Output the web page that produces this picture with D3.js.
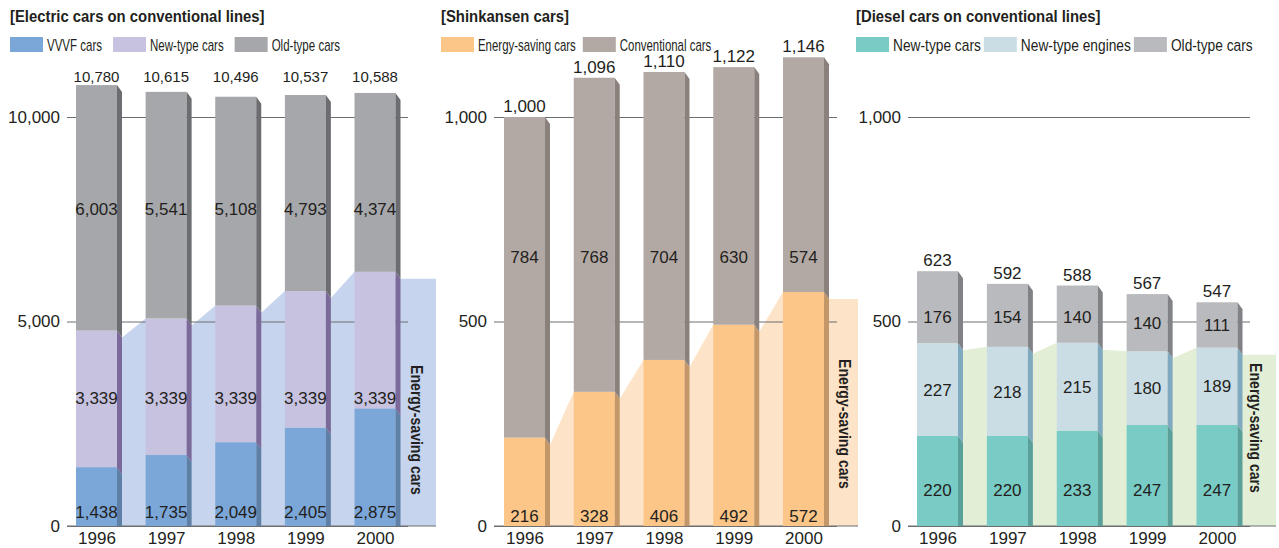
<!DOCTYPE html>
<html>
<head>
<meta charset="utf-8">
<script src="https://cdn.jsdelivr.net/npm/d3@7"></script>
<style>
  body { margin: 0; background: #fff; }
  .num { font-family: "Liberation Sans", Arial, sans-serif; fill: #231f20; }
  .cond { font-family: "Liberation Sans", Arial, sans-serif; fill: #231f20; }
  .tick line { stroke: #6d6e70; stroke-width: 1.2; }
  .domain { display: none; }
</style>
</head>
<body>
<div id="chart"></div>
<script>
const years = ["1996", "1997", "1998", "1999", "2000"]

// Electric cars on conventional lines
const elecVVVF = [1438, 1735, 2049, 2405, 2875]
const elecNew = [3339, 3339, 3339, 3339, 3339]
const elecOld = [6003, 5541, 5108, 4793, 4374]
const elecTotal = [10780, 10615, 10496, 10537, 10588]
const elecTicks = [0, 5000, 10000]

// Shinkansen cars
const shinSaving = [216, 328, 406, 492, 572]
const shinConv = [784, 768, 704, 630, 574]
const shinTotal = [1000, 1096, 1110, 1122, 1146]
const shinTicks = [0, 500, 1000]

// Diesel cars on conventional lines
const dslNewCars = [220, 220, 233, 247, 247]
const dslNewEngines = [227, 218, 215, 180, 189]
const dslOld = [176, 154, 140, 140, 111]
const dslTotal = [623, 592, 588, 567, 547]
const dslTicks = [0, 500, 1000]

const W = 1279, H = 548
const BASE = 526, TOP = 117   // pixel rows of the first and last tick
const BAR_W = 41, DX = 5, DY = 7
const fmt = d3.format(",")

// label "at" is an axis value, "mid" = middle of the segment, "above" = over the bar
const panels = [
    {
        title: "[Electric cars on conventional lines]", left: 10,
        legSqueeze: 0.72, legGap: 11,
        gridFrom: 67, gridTo: 408, bandTo: 436, firstBar: 96.5, lastBar: 375,
        ticks: elecTicks, totals: elecTotal, totalAt: 10980, totalSize: 15,
        bandLabel: {x: 417, y: 430},
        series: [
            {name: "VVVF cars", values: elecVVVF, fill: "#7ba6d8", side: "#5f80a6", saving: true, at: 340},
            {name: "New-type cars", values: elecNew, fill: "#c7c2e0", side: "#7b6a99", saving: true, at: 3130},
            {name: "Old-type cars", values: elecOld, fill: "#a6a7ab", side: "#6c6d70", at: 7750}
        ],
        band: "#c6d4ee"
    },
    {
        title: "[Shinkansen cars]", left: 441,
        legSqueeze: 0.715, legGap: 7,
        gridFrom: 494, gridTo: 837, bandTo: 858, firstBar: 524.5, lastBar: 803.5,
        ticks: shinTicks, totals: shinTotal, totalAt: "above", totalSize: 17,
        bandLabel: {x: 845, y: 424},
        series: [
            {name: "Energy-saving cars", values: shinSaving, fill: "#fbc688", side: "#c39768", saving: true, at: 24},
            {name: "Conventional cars", values: shinConv, fill: "#b3a9a4", side: "#8a817d", at: 658}
        ],
        band: "#fde3c8"
    },
    {
        title: "[Diesel cars on conventional lines]", left: 856,
        legSqueeze: 0.86, legGap: 3,
        gridFrom: 908, gridTo: 1250, bandTo: 1276, firstBar: 937.5, lastBar: 1217,
        ticks: dslTicks, totals: dslTotal, totalAt: "above", totalSize: 17,
        bandLabel: {x: 1256, y: 428},
        series: [
            {name: "New-type cars", values: dslNewCars, fill: "#79cbc5", side: "#599f9a", saving: true, at: 88},
            {name: "New-type engines", values: dslNewEngines, fill: "#cadde5", side: "#7fa9bf", saving: true, at: "mid"},
            {name: "Old-type cars", values: dslOld, fill: "#b9babd", side: "#818286", at: "mid", notAbove: 511}
        ],
        band: "#e3eed6"
    }
]

const svg = d3.select("#chart").append("svg")
    .attr("width", W)
    .attr("height", H)

// narrow lettering: regular face squeezed sideways
function condText(parent, x, y, str, size, squeeze, bold, rotate) {
    let t = parent.append("text")
        .attr("class", "cond")
        .attr("transform", `translate(${x},${y})` + (rotate ? ` rotate(${rotate})` : "") + ` scale(${squeeze},1)`)
        .attr("font-size", size + "px")
        .text(str)
    if (bold) t.attr("font-weight", "bold")
    return t
}

panels.forEach(p => drawPanel(p))

function drawPanel(p) {
    let g = svg.append("g")

    let y = d3.scaleLinear()
        .domain([0, d3.max(p.ticks)])
        .range([BASE, TOP])
    let x = d3.scalePoint()
        .domain(years)
        .range([p.firstBar, p.lastBar])

    // title
    condText(g, p.left, 22, p.title, 16, 0.93, true)

    // legend, laid out from the measured text widths
    let lx = p.left
    p.series.forEach(s => {
        g.append("rect")
            .attr("x", lx).attr("y", 37)
            .attr("width", 33).attr("height", 15)
            .attr("fill", s.fill)
        let t = condText(g, lx + 37, 51, s.name, 16, p.legSqueeze)
        lx += 37 + t.node().getComputedTextLength() * p.legSqueeze + p.legGap
    })

    // stacks
    let stacked = years.map((yr, i) => {
        let acc = 0
        let segs = p.series.map(s => {
            let seg = {y0: acc, y1: acc + s.values[i], s: s}
            acc += s.values[i]
            return seg
        })
        return {year: yr, segs: segs, total: p.totals[i]}
    })
    let savingTop = stacked.map(b => d3.sum(b.segs.filter(d => d.s.saving), d => d.y1 - d.y0))

    // energy-saving band
    let pts = [[x(years[0]) - BAR_W / 2, y(0)]]
    years.forEach((yr, i) => {
        pts.push([x(yr) - BAR_W / 2, y(savingTop[i])])
        pts.push([x(yr) + BAR_W / 2 + DX, y(savingTop[i]) + DY])
    })
    pts.push([p.bandTo, y(savingTop[years.length - 1]) + DY])
    pts.push([p.bandTo, y(0)])
    g.append("path")
        .attr("d", d3.line()(pts) + "Z")
        .attr("fill", p.band)

    // axis + gridlines
    g.append("g")
        .attr("transform", `translate(${p.gridFrom},0)`)
        .call(d3.axisLeft(y)
            .tickValues(p.ticks)
            .tickFormat(fmt)
            .tickSize(-(p.gridTo - p.gridFrom))
            .tickPadding(7))
        .call(a => a.selectAll("text")
            .attr("class", "num")
            .attr("font-size", "17px")
            .attr("font-family", null))

    g.append("line")
        .attr("x1", p.gridFrom).attr("x2", p.bandTo)
        .attr("y1", y(0)).attr("y2", y(0))
        .attr("stroke", "#6d6e70")
        .attr("stroke-width", 1.2)

    g.append("g")
        .attr("transform", `translate(0,${y(0)})`)
        .call(d3.axisBottom(x).tickSize(0).tickPadding(6))
        .call(a => a.selectAll("text")
            .attr("class", "num")
            .attr("font-size", "17px")
            .attr("font-family", null))

    // bars with a shaded side face
    let bars = g.selectAll(".bar")
        .data(stacked)
        .join("g")
        .attr("class", "bar")

    bars.each(function(b) {
        let bg = d3.select(this)
        let xl = x(b.year) - BAR_W / 2, xr = x(b.year) + BAR_W / 2
        b.segs.forEach((seg, k) => {
            let yt = y(seg.y1), yb = y(seg.y0)
            let ybSide = k === 0 ? yb : yb + DY
            bg.append("rect")
                .attr("x", xl).attr("y", yt)
                .attr("width", BAR_W).attr("height", yb - yt)
                .attr("fill", seg.s.fill)
            bg.append("path")
                .attr("d", d3.line()([[xr, yt], [xr + DX, yt + DY], [xr + DX, ybSide], [xr, yb]]) + "Z")
                .attr("fill", seg.s.side)
        })
    })

    // values inside the bars
    bars.each(function(b) {
        let bg = d3.select(this)
        b.segs.forEach(seg => {
            let ly
            if (seg.s.at === "mid") {
                ly = (y(seg.y0) + y(seg.y1)) / 2
                if (seg.s.notAbove !== undefined) ly = Math.max(ly, y(seg.s.notAbove))
            } else {
                ly = y(seg.s.at)
            }
            bg.append("text")
                .attr("class", "num")
                .attr("x", x(b.year))
                .attr("y", ly)
                .attr("dy", "0.36em")
                .attr("text-anchor", "middle")
                .attr("font-size", "17px")
                .text(fmt(seg.y1 - seg.y0))
        })
        bg.append("text")
            .attr("class", "num")
            .attr("x", x(b.year))
            .attr("y", p.totalAt === "above" ? y(b.total) - 11 : y(p.totalAt))
            .attr("dy", "0.36em")
            .attr("text-anchor", "middle")
            .attr("font-size", p.totalSize + "px")
            .text(fmt(b.total))
    })

    // rotated band caption
    condText(g, p.bandLabel.x, p.bandLabel.y, "Energy-saving cars", 16, 0.88, true, 90)
        .attr("text-anchor", "middle")
        .attr("dy", "0.35em")
}
</script>
</body>
</html>
